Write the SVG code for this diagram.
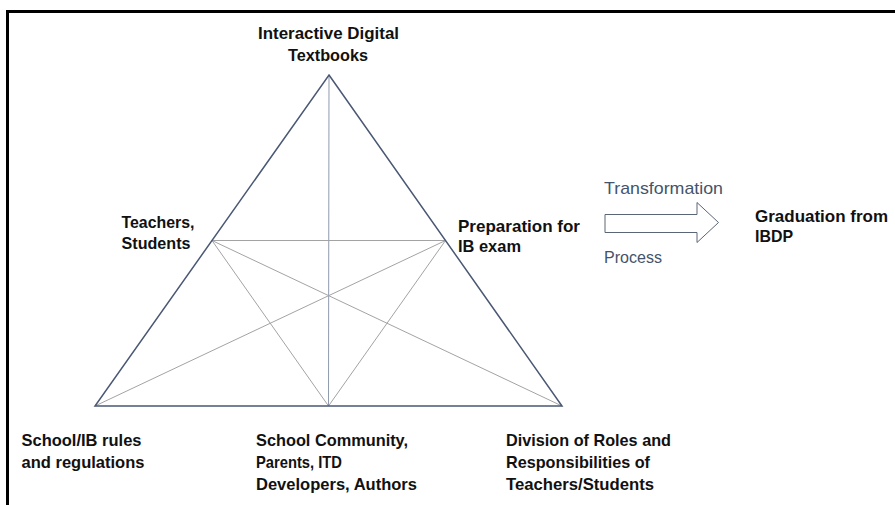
<svg xmlns="http://www.w3.org/2000/svg" width="895" height="505" viewBox="0 0 895 505">
<style>
.lbl{font-family:"Liberation Sans",Arial,sans-serif;font-weight:bold;font-size:17px;fill:#111}
.proc{font-family:"Liberation Sans",Arial,sans-serif;font-size:17px;fill:#44546a}
.edge{stroke:#4a5874;stroke-width:1.5;fill:none}
.inner{stroke:#a3a3a3;stroke-width:1;fill:none}
.axis{stroke:#8f9aae;stroke-width:1;fill:none}
</style>
<rect width="895" height="505" fill="#fff"/>
<g id="frame">
<polyline points="7.5,505 7.5,11.5 895,11.5" fill="none" stroke="#000" stroke-width="3"/>
</g>
<g id="connectors">
<line class="axis" x1="329" y1="75" x2="328.5" y2="406"/>
<line class="inner" x1="212" y1="240.5" x2="445.5" y2="240.5"/>
<line class="inner" x1="212" y1="240.5" x2="328.5" y2="406"/>
<line class="inner" x1="212" y1="240.5" x2="562" y2="406"/>
<line class="inner" x1="445.5" y1="240.5" x2="328.5" y2="406"/>
<line class="inner" x1="445.5" y1="240.5" x2="95" y2="406"/>
<polygon class="edge" points="329,75 562,406 95,406"/>
<polygon id="arrow" points="605,214.5 697,214.5 697,202.5 718.5,222.5 697,242.5 697,232.5 605,232.5" fill="#fff" stroke="#5a6578" stroke-width="1"/>
</g>
<g id="node-itd">
<text class="lbl" x="258" y="38.5" textLength="141" lengthAdjust="spacingAndGlyphs">Interactive Digital</text>
<text class="lbl" x="288" y="61" textLength="80" lengthAdjust="spacingAndGlyphs">Textbooks</text>
</g>
<g id="node-teachers">
<text class="lbl" x="121.5" y="228" textLength="73" lengthAdjust="spacingAndGlyphs">Teachers,</text>
<text class="lbl" x="121.5" y="249" textLength="69" lengthAdjust="spacingAndGlyphs">Students</text>
</g>
<g id="node-prep">
<text class="lbl" x="458" y="231.5" textLength="122" lengthAdjust="spacingAndGlyphs">Preparation for</text>
<text class="lbl" x="458" y="252" textLength="63" lengthAdjust="spacingAndGlyphs">IB exam</text>
</g>
<g id="node-process">
<text class="proc" x="604" y="194" textLength="119" lengthAdjust="spacingAndGlyphs">Transformation</text>
<text class="proc" x="604" y="263" textLength="58" lengthAdjust="spacingAndGlyphs">Process</text>
</g>
<g id="node-graduation">
<text class="lbl" x="755" y="221.5" textLength="133" lengthAdjust="spacingAndGlyphs">Graduation from</text>
<text class="lbl" x="755" y="242" textLength="38" lengthAdjust="spacingAndGlyphs">IBDP</text>
</g>
<g id="node-rules">
<text class="lbl" x="21.5" y="446" textLength="120" lengthAdjust="spacingAndGlyphs">School/IB rules</text>
<text class="lbl" x="21.5" y="468" textLength="123" lengthAdjust="spacingAndGlyphs">and regulations</text>
</g>
<g id="node-community">
<text class="lbl" x="256" y="446" textLength="152" lengthAdjust="spacingAndGlyphs">School Community,</text>
<text class="lbl" x="256" y="468" textLength="86" lengthAdjust="spacingAndGlyphs">Parents, ITD</text>
<text class="lbl" x="256" y="490" textLength="161" lengthAdjust="spacingAndGlyphs">Developers, Authors</text>
</g>
<g id="node-division">
<text class="lbl" x="506" y="446" textLength="165" lengthAdjust="spacingAndGlyphs">Division of Roles and</text>
<text class="lbl" x="506" y="468" textLength="144" lengthAdjust="spacingAndGlyphs">Responsibilities of</text>
<text class="lbl" x="506" y="490" textLength="148" lengthAdjust="spacingAndGlyphs">Teachers/Students</text>
</g>
</svg>
